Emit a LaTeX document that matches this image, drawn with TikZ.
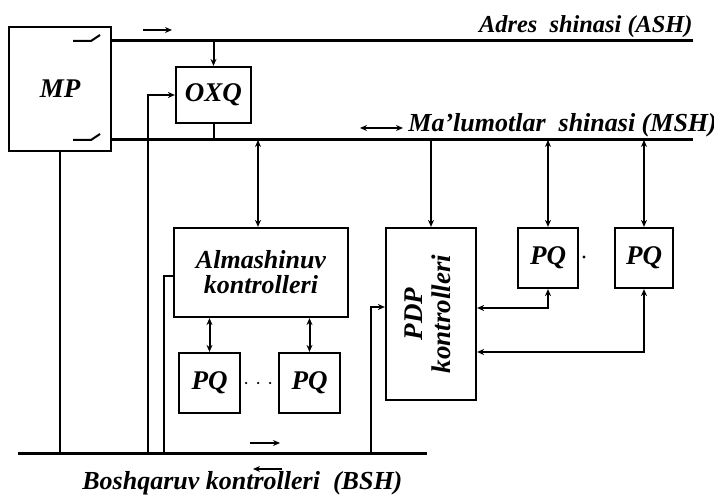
\documentclass[tikz,border=0pt]{standalone}
\usepackage{fontspec}
\setmainfont{Liberation Serif}
\usetikzlibrary{arrows.meta}
\begin{document}
\begin{tikzpicture}[x=0.5pt,y=-0.5pt,
  box/.style={draw, line width=1.1pt, inner sep=0pt, font=\fontsize{13.5}{15}\selectfont\bfseries\itshape},
  bus/.style={line width=1.5pt},
  wire/.style={line width=1pt},
  dir/.style={line width=1.4pt},
  lbl/.style={font=\fontsize{13}{15}\selectfont\bfseries\itshape, inner sep=0pt},
  >={Stealth[length=3.5pt,width=3pt]}
]
\useasboundingbox (0,0) rectangle (714,502);
% boxes
\node[box, minimum width=51pt, minimum height=62pt] (MP) at (60,89) {MP};
\node[box, minimum width=37.5pt, minimum height=28pt] (OXQ) at (213.5,95) {OXQ};
\node[box, minimum width=87pt, minimum height=44.5pt, align=center, font=\fontsize{13}{12.5}\selectfont\bfseries\itshape] (Alm) at (261,272.5) {Almashinuv\\kontrolleri};
\node[box, minimum width=30.5pt, minimum height=30pt] (PQa) at (209.5,383) {PQ};
\node[box, minimum width=30.5pt, minimum height=30pt] (PQb) at (309.5,383) {PQ};
\node[box, minimum width=45pt, minimum height=86pt] (PDP) at (431,314)
  {\rotatebox{90}{\fontsize{13.5}{14}\selectfont\begin{tabular}{@{}c@{}}PDP\\kontrolleri\end{tabular}}};
\node[box, minimum width=30pt, minimum height=30pt] (PQc) at (548,258) {PQ};
\node[box, minimum width=29pt, minimum height=30pt] (PQd) at (644,258) {PQ};
% bus coordinates
\coordinate (ashL) at (111,41); \coordinate (ashR) at (693,41);
\coordinate (mshL) at (111,140); \coordinate (mshR) at (693,140);
\coordinate (bshL) at (18,454); \coordinate (bshR) at (427,454);
\coordinate (b1) at (148,454); \coordinate (b2) at (164,454); \coordinate (b3) at (371,454);
\coordinate (m1) at (258,140);
\coordinate (y276) at (0,276); \coordinate (y307) at (0,307);
\coordinate (y308) at (0,308); \coordinate (y352) at (0,352);
% buses
\draw[bus] (ashL) -- (ashR);
\draw[bus] (mshL) -- (mshR);
\draw[bus] (bshL) -- (bshR);
% switches inside MP
\draw[wire] (73,41) -- (91,41) -- (100,35);
\draw[wire] (73,140) -- (91,140) -- (100,134);
% connectors
\draw[wire,->] (OXQ.north |- ashL) -- (OXQ.north);
\draw[wire] (OXQ.south) -- (OXQ.south |- mshL);
\draw[wire,->] (b1) |- (OXQ.west);
\draw[wire] (MP.south) -- (MP.south |- bshL);
\draw[wire,<->] (m1) -- (m1 |- Alm.north);
\draw[wire] (Alm.west |- y276) -| (b2);
\draw[wire,<->] (PQa.north |- Alm.south) -- (PQa.north);
\draw[wire,<->] (PQb.north |- Alm.south) -- (PQb.north);
\draw[line width=1.2pt, dash pattern=on 0pt off 6pt, line cap=round, shorten <=2.5pt, shorten >=2.5pt] (PQa.east) -- (PQb.west);
\draw[wire,->] (PDP.north |- mshL) -- (PDP.north);
\draw[wire,<->] (PQc.north |- mshL) -- (PQc.north);
\draw[wire,<->] (PQd.north |- mshL) -- (PQd.north);
\draw[wire,<->] (PQc.south) |- (PDP.east |- y308);
\draw[wire,<->] (PQd.south) |- (PDP.east |- y352);
\draw[wire,->] (b3) |- (PDP.west |- y307);
\fill (584,257) circle (0.8pt);
% direction arrows
\draw[dir,->] (143,30) -- (172,30);
\draw[dir,<->] (360,128) -- (403,128);
\draw[dir,->] (250,443) -- (280,443);
\draw[dir,<-] (253,469) -- (282,469);
% labels
\node[lbl, anchor=base east, font=\fontsize{12.2}{14}\selectfont\bfseries\itshape] (ash) at (693,33) {Adres~ shinasi (ASH)};
\node[lbl, anchor=base west] (msh) at (408,132) {Ma'lumotlar~ shinasi (MSH)};
\node[lbl, anchor=base west] (bsh) at (82,490) {Boshqaruv kontrolleri~ (BSH)};
\end{tikzpicture}
\end{document}
